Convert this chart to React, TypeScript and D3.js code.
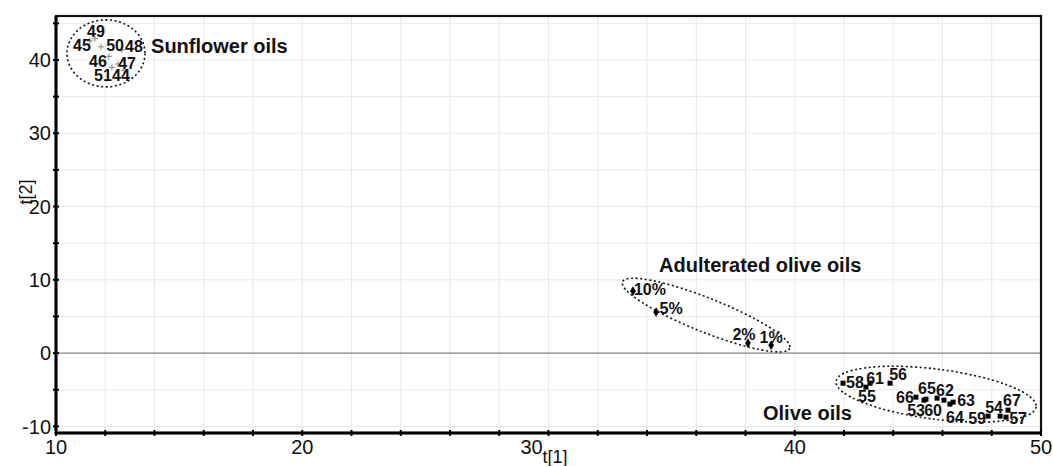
import React, { useEffect, useRef } from 'react';
import * as d3 from 'd3';

// score plot t[1] vs t[2]
const sunflowerIds = ['45', '49', '50', '48', '46', '47', '51', '44'];
const sunflowerT1 = [11.38, 11.58, 11.83, 12.68, 12.15, 12.52, 12.27, 12.76];
const sunflowerT2 = [42.6, 42.9, 41.8, 41.4, 40.5, 39.45, 39.0, 38.6];

const adulteratedIds = ['10%', '5%', '2%', '1%'];
const adulteratedT1 = [33.43, 34.37, 38.1, 39.04];
const adulteratedT2 = [8.46, 5.6, 1.37, 1.09];

const oliveIds = ['58', '55', '61', '56', '66', '65', '53', '60', '62', '63', '64', '59', '54', '67', '57'];
const oliveT1 = [41.96, 42.89, 43.06, 43.87, 44.92, 45.33, 45.25, 45.78, 46.06, 46.43, 46.3, 47.85, 48.34, 48.66, 48.58];
const oliveT2 = [-4.1, -4.64, -4.1, -4.1, -6.01, -6.28, -6.42, -6.14, -6.42, -6.69, -6.96, -8.6, -8.6, -7.78, -8.74];

const groupNames = ['Sunflower oils', 'Adulterated olive oils', 'Olive oils'];
const groupLabelT1 = [13.86, 34.49, 38.71];
const groupLabelT2 = [42.0, 12.0, -8.19];
const groupCenterT1 = [12.03, 36.4, 45.74];
const groupCenterT2 = [40.9, 5.19, -5.6];

const xTicks = [10, 20, 30, 40, 50];
const yTicks = [-10, 0, 10, 20, 30, 40];

// label nudges in px (layout only)
const nudgeSun = [[-8, 4], [1, -7], [14, -2], [12, -3], [-11, 5], [9, -1], [-9, 8], [-3, 5]];
const nudgeAdu = [[17, -2], [15, -4], [-4, -9], [0, -8]];
const nudgeOlive = [[12, -1], [1, 9], [5, -5], [8, -9], [-11, 0], [1, -11], [-8, 10], [-4, 12], [1, -10], [13, -2], [5, 13], [-11, 2], [-6, -9], [4, -10], [12, 1]];
const ellipseSize = [[39, 33.5, 0], [90, 17, 21.7], [100.8, 25, 7.3]];

const App = () => {
  const width = 1053,
    height = 466,
    margin = { left: 56, top: 16, right: 12, bottom: 33 };
  const svgRef = useRef<SVGSVGElement>(null);
  const font = 'Liberation Sans, Arial, sans-serif';

  useEffect(() => {
    const svg = d3.select(svgRef.current);
    svg.selectAll('*').remove();

    const x = d3.scaleLinear().domain([10, 50]).range([margin.left, width - margin.right]);
    const y = d3.scaleLinear().domain([-10.9, 46]).range([height - margin.bottom, margin.top]);

    // grid
    const grid = svg.append('g').attr('stroke', '#e8e8e8').attr('stroke-width', 1);
    grid.selectAll('line.gx')
      .data(d3.range(12, 50, 2))
      .join('line')
      .attr('x1', d => x(d)).attr('x2', d => x(d))
      .attr('y1', margin.top).attr('y2', height - margin.bottom);
    grid.selectAll('line.gy')
      .data(d3.range(-10, 46, 5))
      .join('line')
      .attr('y1', d => y(d)).attr('y2', d => y(d))
      .attr('x1', margin.left).attr('x2', width - margin.right);

    // zero line
    svg.append('line')
      .attr('x1', margin.left).attr('x2', width - margin.right)
      .attr('y1', y(0)).attr('y2', y(0))
      .attr('stroke', '#8a8a8a').attr('stroke-width', 1.2);

    // frame
    svg.append('rect')
      .attr('x', margin.left).attr('y', margin.top)
      .attr('width', width - margin.right - margin.left)
      .attr('height', height - margin.bottom - margin.top)
      .attr('fill', 'none').attr('stroke', '#111').attr('stroke-width', 2.2);
    svg.append('path')
      .attr('d', `M${margin.left},${margin.top}V${height - margin.bottom}H${width - margin.right}`)
      .attr('fill', 'none').attr('stroke', '#000').attr('stroke-width', 3);

    // ticks
    const ticks = svg.append('g').attr('stroke', '#000').attr('stroke-width', 2);
    ticks.selectAll('line.tx')
      .data(d3.range(10, 51, 2))
      .join('line')
      .attr('x1', d => x(d)).attr('x2', d => x(d))
      .attr('y1', height - margin.bottom - 3).attr('y2', height - margin.bottom + 3);
    ticks.selectAll('line.ty')
      .data(d3.range(-10, 46, 5))
      .join('line')
      .attr('y1', d => y(d)).attr('y2', d => y(d))
      .attr('x1', margin.left - 3).attr('x2', margin.left + 3);

    // tick labels
    svg.append('g')
      .attr('font-family', font).attr('font-size', 20).attr('fill', '#111')
      .selectAll('text')
      .data(xTicks)
      .join('text')
      .attr('x', d => x(d) - (d === 30 ? 17 : 0))
      .attr('y', height - margin.bottom + 21)
      .attr('text-anchor', 'middle')
      .text(d => d);
    svg.append('g')
      .attr('font-family', font).attr('font-size', 20).attr('fill', '#111')
      .selectAll('text')
      .data(yTicks)
      .join('text')
      .attr('x', margin.left - 5)
      .attr('y', d => y(d))
      .attr('dy', '0.36em')
      .attr('text-anchor', 'end')
      .text(d => d);

    // axis titles
    svg.append('text')
      .attr('font-family', font).attr('font-size', 18).attr('fill', '#111')
      .attr('x', x(30) - 6).attr('y', height - 3)
      .text('t[1]');
    svg.append('text')
      .attr('font-family', font).attr('font-size', 18).attr('fill', '#111')
      .attr('transform', `translate(32,${192}) rotate(-90)`)
      .attr('text-anchor', 'middle')
      .text('t[2]');

    // ellipses
    svg.append('g')
      .selectAll('ellipse')
      .data(groupNames)
      .join('ellipse')
      .attr('transform', (d, i) => `translate(${x(groupCenterT1[i])},${y(groupCenterT2[i])}) rotate(${ellipseSize[i][2]})`)
      .attr('rx', (d, i) => ellipseSize[i][0])
      .attr('ry', (d, i) => ellipseSize[i][1])
      .attr('fill', 'none')
      .attr('stroke', '#111')
      .attr('stroke-width', 1.6)
      .attr('stroke-dasharray', '2 2.6');

    // markers
    svg.append('g')
      .attr('stroke', '#888').attr('stroke-width', 1)
      .selectAll('path')
      .data(sunflowerIds)
      .join('path')
      .attr('d', (d, i) => {
        const cx = x(sunflowerT1[i]), cy = y(sunflowerT2[i]);
        return `M${cx - 3},${cy}H${cx + 3}M${cx},${cy - 3}V${cy + 3}`;
      });
    svg.append('g')
      .attr('fill', '#000')
      .selectAll('path')
      .data(adulteratedIds)
      .join('path')
      .attr('transform', (d, i) => `translate(${x(adulteratedT1[i])},${y(adulteratedT2[i])})`)
      .attr('d', d3.symbol(d3.symbolDiamond, 28)());
    svg.append('g')
      .attr('fill', '#000')
      .selectAll('rect')
      .data(oliveIds)
      .join('rect')
      .attr('x', (d, i) => x(oliveT1[i]) - 2.5)
      .attr('y', (d, i) => y(oliveT2[i]) - 2.5)
      .attr('width', 5).attr('height', 5);

    // point labels
    const pointLabels = (ids: string[], t1: number[], t2: number[], nudge: number[][]) =>
      svg.append('g')
        .attr('font-family', font).attr('font-size', 16).attr('font-weight', 'bold').attr('fill', '#111')
        .selectAll('text')
        .data(ids)
        .join('text')
        .attr('x', (d, i) => x(t1[i]) + nudge[i][0])
        .attr('y', (d, i) => y(t2[i]) + nudge[i][1])
        .attr('dy', '0.36em')
        .attr('text-anchor', 'middle')
        .text(d => d);
    pointLabels(sunflowerIds, sunflowerT1, sunflowerT2, nudgeSun);
    pointLabels(adulteratedIds, adulteratedT1, adulteratedT2, nudgeAdu);
    pointLabels(oliveIds, oliveT1, oliveT2, nudgeOlive);

    // group labels
    svg.append('g')
      .attr('font-family', font).attr('font-size', 20).attr('font-weight', 'bold').attr('fill', '#111')
      .selectAll('text')
      .data(groupNames)
      .join('text')
      .attr('x', (d, i) => x(groupLabelT1[i]))
      .attr('y', (d, i) => y(groupLabelT2[i]))
      .attr('dy', '0.36em')
      .text(d => d);
  }, []);

  return (
    <svg ref={svgRef} width={width} height={height}
      style={{ position: 'absolute', left: 0, top: 0, background: '#fff' }}></svg>
  );
};

export default App;
